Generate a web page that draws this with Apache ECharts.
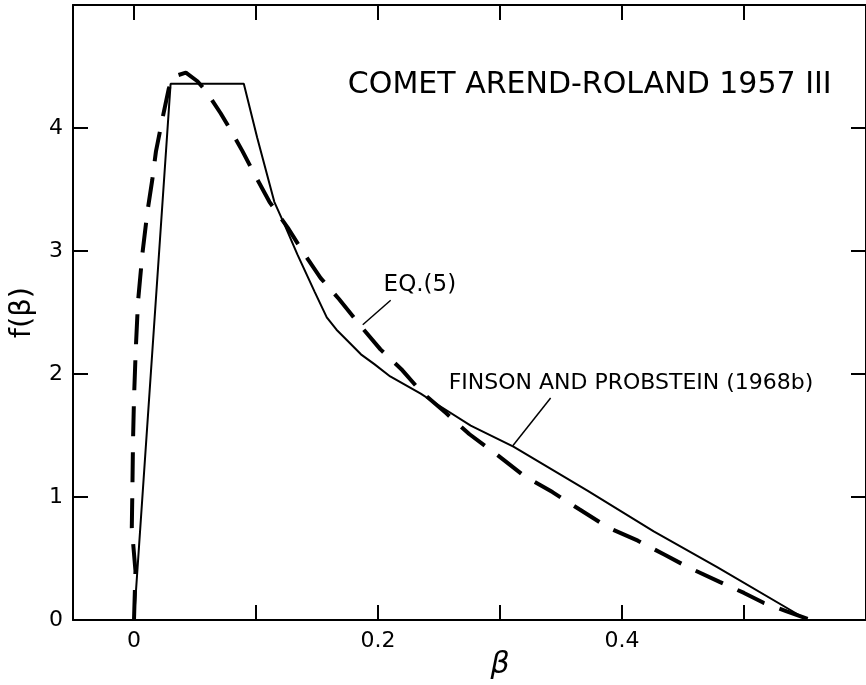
<!DOCTYPE html>
<html><head><meta charset="utf-8">
<script src="https://cdn.jsdelivr.net/npm/echarts@6/dist/echarts.min.js"></script>
<style>html,body{margin:0;padding:0;background:#fff}#c{width:866px;height:685px}</style>
</head><body><div id="c"></div>
<script>
// ---- data ----
const xTicks = [0, 0.1, 0.2, 0.3, 0.4, 0.5];
const xTickLabels = [0, 0.2, 0.4];
const yTicks = [0, 1, 2, 3, 4];
// Finson and Probstein (1968b) – solid
const finsonProbstein = [
  [0, 0], [0.03, 4.36], [0.09, 4.36], [0.101, 3.92], [0.115, 3.40], [0.124, 3.20],
  [0.134, 2.97], [0.148, 2.67], [0.158, 2.46], [0.166, 2.36], [0.175, 2.27], [0.186, 2.16],
  [0.197, 2.08], [0.210, 1.98], [0.235, 1.84], [0.249, 1.75], [0.276, 1.58],
  [0.311, 1.41], [0.372, 1.05], [0.426, 0.72], [0.478, 0.43], [0.552, 0]
];
// Eq. (5) – dashed
const eq5 = [
  [0, 0], [0.0012, 0.4], [-0.0018, 0.75], [-0.0013, 1.08], [-0.0008, 1.46], [0, 1.80],
  [0.0014, 2.19], [0.0033, 2.59], [0.0069, 2.98], [0.011, 3.32], [0.015, 3.58],
  [0.018, 3.81], [0.0236, 4.09], [0.0285, 4.32], [0.033, 4.42], [0.0425, 4.45],
  [0.052, 4.38], [0.059, 4.30], [0.071, 4.12], [0.080, 3.97], [0.089, 3.81],
  [0.099, 3.62], [0.111, 3.40], [0.126, 3.19], [0.138, 3.00], [0.153, 2.78],
  [0.168, 2.61], [0.185, 2.40], [0.202, 2.20], [0.220, 2.03], [0.235, 1.86],
  [0.256, 1.68], [0.275, 1.51], [0.298, 1.34], [0.320, 1.17], [0.343, 1.04],
  [0.365, 0.90], [0.389, 0.75], [0.413, 0.645], [0.435, 0.53], [0.456, 0.42],
  [0.480, 0.31], [0.500, 0.22], [0.516, 0.14], [0.535, 0.07], [0.555, 0]
];
// annotation leader lines (data coordinates)
const eqLeader = [[0.2104, 2.60], [0.1875, 2.40]];
const fpLeader = [[0.3415, 1.805], [0.3105, 1.416]];
const titleText = 'COMET AREND-ROLAND 1957 III';
const eqText = 'EQ.(5)';
const fpText = 'FINSON AND PROBSTEIN (1968b)';

const FONT = '"DejaVu Sans", sans-serif';
const chart = echarts.init(document.getElementById('c'), null, {renderer: 'canvas'});

function axisX(pos, showLabel) {
  return {
    type: 'value', position: pos, min: -0.05, max: 0.6,
    axisLine: {show: true, onZero: false, lineStyle: {color: '#000', width: 2}},
    axisTick: {show: true, inside: true, length: 15, customValues: xTicks, lineStyle: {color: '#000', width: 2}},
    axisLabel: {show: showLabel, customValues: xTickLabels, fontSize: 22, color: '#000', margin: 10, fontFamily: FONT},
    splitLine: {show: false}
  };
}
function axisY(pos, showLabel) {
  const a = {
    type: 'value', position: pos, min: 0, max: 5,
    axisLine: {show: true, onZero: false, lineStyle: {color: '#000', width: 2}},
    axisTick: {show: true, inside: true, length: 15, customValues: yTicks, lineStyle: {color: '#000', width: 2}},
    axisLabel: {show: showLabel, customValues: yTicks, fontSize: 22, color: '#000', margin: 10, fontFamily: FONT},
    splitLine: {show: false}
  };
  if (showLabel) {
    a.name = 'f(β)';
    a.nameLocation = 'middle';
    a.nameRotate = 90;
    a.nameGap = 36;
    a.nameTextStyle = {fontSize: 29, color: '#000', fontFamily: FONT};
  }
  return a;
}

chart.setOption({
  animation: false,
  backgroundColor: '#fff',
  grid: {left: 72, right: 0, top: 5, bottom: 65},
  xAxis: [axisX('bottom', true), axisX('top', false)],
  yAxis: [axisY('left', true), axisY('right', false)],
  series: [
    {type: 'line', data: finsonProbstein, symbol: 'none', xAxisIndex: 0, yAxisIndex: 0,
     lineStyle: {color: '#000', width: 2}},
    {type: 'line', data: eq5, symbol: 'none', xAxisIndex: 0, yAxisIndex: 0,
     lineStyle: {color: '#000', width: 4, type: [30, 16], cap: 'butt'}},
    {type: 'line', data: eqLeader, symbol: 'none', lineStyle: {color: '#000', width: 1.5}},
    {type: 'line', data: fpLeader, symbol: 'none', lineStyle: {color: '#000', width: 1.5}}
  ]
});

const px = (p) => chart.convertToPixel({xAxisIndex: 0, yAxisIndex: 0}, p);
const tPos = px([0.1753, 4.345]);
const ePos = px([0.2046, 2.72]);
const fPos = px([0.2579, 1.923]);
const bX = px([0.3, 0])[0];
chart.setOption({
  graphic: [
    {type: 'text', x: tPos[0], y: tPos[1], style: {text: titleText, font: '30px ' + FONT, fill: '#000', textAlign: 'left', textVerticalAlign: 'middle'}},
    {type: 'text', x: ePos[0], y: ePos[1], style: {text: eqText, font: '23px ' + FONT, fill: '#000', textAlign: 'left', textVerticalAlign: 'middle'}},
    {type: 'text', x: fPos[0], y: fPos[1], style: {text: fpText, font: '22px ' + FONT, fill: '#000', textAlign: 'left', textVerticalAlign: 'middle'}},
    {type: 'text', x: bX, y: 665, style: {text: 'β', font: 'italic 30px ' + FONT, fill: '#000', textAlign: 'center', textVerticalAlign: 'middle'}}
  ]
});
</script>
</body></html>
